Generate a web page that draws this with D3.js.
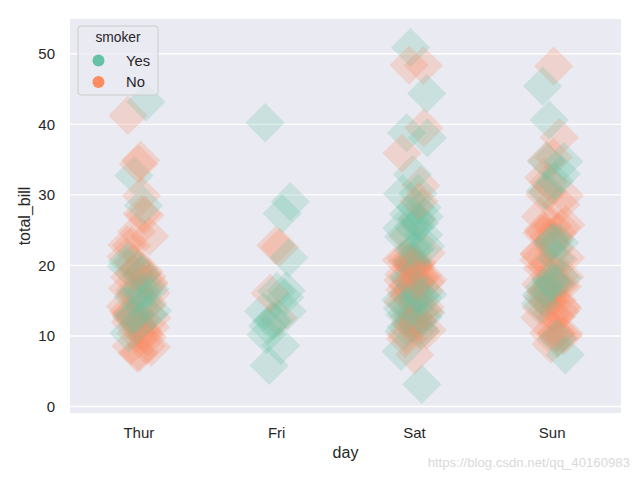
<!DOCTYPE html>
<html><head><meta charset="utf-8">
<script src="https://cdn.jsdelivr.net/npm/d3@7"></script>
<style>body{margin:0;background:#fff} svg{display:block}</style>
</head><body>
<svg id="c" width="640" height="480"></svg>
<script>
const days = ["Thur", "Fri", "Sat", "Sun"];
const smokerLevels = ["Yes", "No"];
const yTicks = [0, 10, 20, 30, 40, 50];
const palette = ["#66c2a5", "#fc8d62"];

// total_bill per day, in row order, with matching smoker flags
const thurBill = [27.20, 22.76, 17.29, 19.44, 16.66, 10.07, 32.68, 15.98, 34.83, 13.03, 18.28, 24.71, 21.16,
  10.65, 12.43, 24.08, 11.69, 13.42, 14.26, 15.95, 12.48, 29.80, 8.52, 14.52, 11.38, 22.82, 19.08, 20.27, 11.17, 12.26, 18.26, 8.51, 10.33, 14.15,
  16.00, 13.16, 17.47, 34.30, 41.19, 27.05, 16.43, 8.35, 18.64, 11.87, 9.78, 7.51,
  19.81, 28.44, 15.48, 16.58, 7.56, 10.34, 43.11, 13.00, 13.51, 18.71, 12.74, 13.00, 16.40, 20.53, 16.47, 18.78];
const thurSmoker = ["No","No","No","Yes","No","No","Yes","No","No","No","No","No","No",
  "No","No","No","No","No","No","No","No","No","No","No","No","No","No","No","No","No","No","No","No","No",
  "Yes","No","No","No","No","No","No","No","No","No","No","No",
  "Yes","Yes","Yes","Yes","No","Yes","Yes","Yes","Yes","Yes","Yes","Yes","Yes","Yes","Yes","No"];

const friBill = [28.97, 22.49, 5.75, 16.32, 22.75, 40.17, 27.28, 12.03, 21.01, 12.46, 11.35, 15.38, 12.16, 13.42, 8.58, 15.98, 13.42, 16.27, 10.09];
const friSmoker = ["Yes","No","Yes","Yes","No","Yes","Yes","Yes","Yes","No","Yes","Yes","Yes","Yes","Yes","No","Yes","Yes","Yes"];

const satBill = [20.65, 17.92, 20.29, 15.77, 39.42, 19.82, 17.81, 13.37, 12.69, 21.70, 19.65, 9.55, 18.35, 15.06, 20.69, 17.78, 24.06, 16.31, 16.93, 18.69, 31.27, 16.04,
  38.01, 26.41, 11.24, 48.27, 20.29, 13.81, 11.02, 18.29, 17.59, 20.08, 16.45, 3.07, 20.23, 15.01, 12.02, 17.07, 26.86, 25.28, 14.73, 10.51, 17.92,
  44.30, 22.42, 20.92, 15.36, 20.49, 25.21, 18.24, 14.31, 14.00, 7.25,
  10.59, 10.63, 50.81, 15.81,
  26.59, 38.73, 24.27, 12.76, 30.06, 25.89, 48.33, 13.27, 28.17, 12.90, 28.15, 11.59, 7.74, 30.14,
  20.45, 13.28, 22.12, 24.01, 15.69, 11.61, 10.77, 15.53, 10.07, 12.60, 32.83, 35.83, 29.03, 27.18, 22.67, 17.82];
const satSmoker = ["No","No","No","No","No","No","No","No","No","No","No","No","No","No","No","No","No","No","No","No","No","No",
  "Yes","No","Yes","No","Yes","Yes","Yes","Yes","No","No","No","Yes","No","Yes","No","No","Yes","Yes","No","No","Yes",
  "Yes","Yes","No","Yes","Yes","Yes","No","Yes","No","No",
  "Yes","Yes","Yes","Yes",
  "Yes","Yes","Yes","Yes","Yes","Yes","No","Yes","Yes","Yes","Yes","Yes","Yes","Yes",
  "No","No","Yes","Yes","Yes","No","No","Yes","No","Yes","Yes","No","No","Yes","Yes","No"];

const sunBill = [16.99, 10.34, 21.01, 23.68, 24.59, 25.29, 8.77, 26.88, 15.04, 14.78, 10.27, 35.26, 15.42, 18.43, 14.83, 21.58, 10.33, 16.29, 16.97,
  17.46, 13.94, 9.68, 30.40, 18.29, 22.23, 32.40, 28.55, 18.04, 12.54, 10.29, 34.81, 9.94, 25.56, 19.49,
  38.07, 23.95, 25.71, 17.31, 29.93,
  14.07, 13.13, 17.26, 24.55, 19.77, 29.85, 48.17, 25.00, 13.39, 16.49, 21.50, 12.66, 16.21, 13.81, 17.51, 24.52, 20.76, 31.71,
  7.25, 31.85, 16.82, 32.90, 17.89, 14.48, 9.60, 34.63, 34.65, 23.33, 45.35, 23.17, 40.55, 20.69, 20.90, 30.46, 18.15, 23.10, 15.69];
const sunSmoker = ["No","No","No","No","No","No","No","No","No","No","No","No","No","No","No","No","No","No","No",
  "No","No","No","No","No","No","No","No","No","No","No","No","No","No","No",
  "No","No","No","No","No",
  "No","No","No","No","No","No","No","No","No","No","No","No","No","No","Yes","No","No","No",
  "Yes","Yes","Yes","Yes","Yes","Yes","Yes","Yes","Yes","Yes","Yes","Yes","Yes","No","Yes","Yes","Yes","Yes","Yes"];

const dayData = [
  {day: "Thur", bill: thurBill, smoker: thurSmoker},
  {day: "Fri", bill: friBill, smoker: friSmoker},
  {day: "Sat", bill: satBill, smoker: satSmoker},
  {day: "Sun", bill: sunBill, smoker: sunSmoker}
];

const W = 640, H = 480;
const m = {left: 70, right: 621, top: 19, bottom: 413};
const font = "'Liberation Sans', Arial, sans-serif";
const txt = "#262626";

const svg = d3.select("#c");
const x = d3.scaleBand().domain(days).range([m.left, m.right]).padding(0);
const y = d3.scaleLinear().domain([-0.992, 54.86]).range([m.bottom, m.top]);
const color = d3.scaleOrdinal().domain(smokerLevels).range(palette);

svg.append("rect").attr("width", W).attr("height", H).attr("fill", "#fff");
svg.append("rect").attr("x", m.left).attr("y", m.top)
  .attr("width", m.right - m.left).attr("height", m.bottom - m.top).attr("fill", "#eaeaf2");

svg.append("defs").append("clipPath").attr("id", "clip")
  .append("rect").attr("x", m.left).attr("y", m.top)
  .attr("width", m.right - m.left).attr("height", m.bottom - m.top);

// grid + y axis
const yAxis = d3.axisLeft(y).tickValues(yTicks).tickSize(0).tickPadding(0);
const gy = svg.append("g").attr("transform", `translate(${m.left},0)`).call(yAxis);
gy.select(".domain").remove();
gy.selectAll(".tick line").attr("x2", m.right - m.left).attr("stroke", "#fff").attr("stroke-width", 1.4);
gy.selectAll(".tick text").attr("x", -15).attr("fill", txt)
  .style("font-family", font).style("font-size", "15px").attr("dy", "0.35em");

const xAxis = d3.axisBottom(x).tickSize(0).tickPadding(0);
const gx = svg.append("g").attr("transform", `translate(0,${m.bottom})`).call(xAxis);
gx.select(".domain").remove();
gx.selectAll(".tick text").attr("y", 0).attr("dy", "25px").attr("fill", txt)
  .style("font-family", font).style("font-size", "15px");

// points: one strip per day, drawn in row order (as seaborn does without dodge)
const bw = x.bandwidth();
const r = 19.6;
const diamond = `M0,${-r}L${r},0L0,${r}L${-r},0Z`;
const pts = svg.append("g").attr("clip-path", "url(#clip)");
dayData.forEach((dd, di) => {
  const seed = di * 0.377;
  pts.append("g").selectAll("path").data(dd.bill).join("path")
    .attr("d", diamond)
    .attr("transform", (v, i) => {
      const j = (((i + 1) * 0.6180339887 + seed) % 1) * 0.2 - 0.1;
      return `translate(${x(dd.day) + bw / 2 + j * bw},${y(v)})`;
    })
    .attr("fill", (v, i) => color(dd.smoker[i]))
    .attr("fill-opacity", 0.25);
});

// axis labels
svg.append("text").attr("x", (m.left + m.right) / 2).attr("y", 458)
  .attr("text-anchor", "middle").attr("fill", txt)
  .style("font-family", font).style("font-size", "16px").text("day");
svg.append("text").attr("transform", `translate(30,${(m.top + m.bottom) / 2}) rotate(-90)`)
  .attr("text-anchor", "middle").attr("fill", txt)
  .style("font-family", font).style("font-size", "16px").text("total_bill");

// legend
const lg = svg.append("g");
lg.append("rect").attr("x", 78).attr("y", 26).attr("width", 80).attr("height", 69)
  .attr("rx", 3).attr("fill", "#eaeaf2").attr("fill-opacity", 0.8)
  .attr("stroke", "#cccccc").attr("stroke-width", 1);
lg.append("text").attr("x", 118).attr("y", 42).attr("text-anchor", "middle")
  .attr("fill", txt).style("font-family", font).style("font-size", "13.8px").text("smoker");
smokerLevels.forEach((s, i) => {
  const cy = 60.5 + i * 21.5;
  lg.append("circle").attr("cx", 98.5).attr("cy", cy).attr("r", 6).attr("fill", color(s));
  lg.append("text").attr("x", 126).attr("y", cy).attr("dy", "0.35em")
    .attr("fill", txt).style("font-family", font).style("font-size", "14.8px").text(s);
});

// watermark
svg.append("text").attr("x", 630).attr("y", 467).attr("text-anchor", "end")
  .attr("fill", "#d9d9d9").style("font-family", font).style("font-size", "13.2px")
  .text("https://blog.csdn.net/qq_40160983");
</script>
</body></html>
